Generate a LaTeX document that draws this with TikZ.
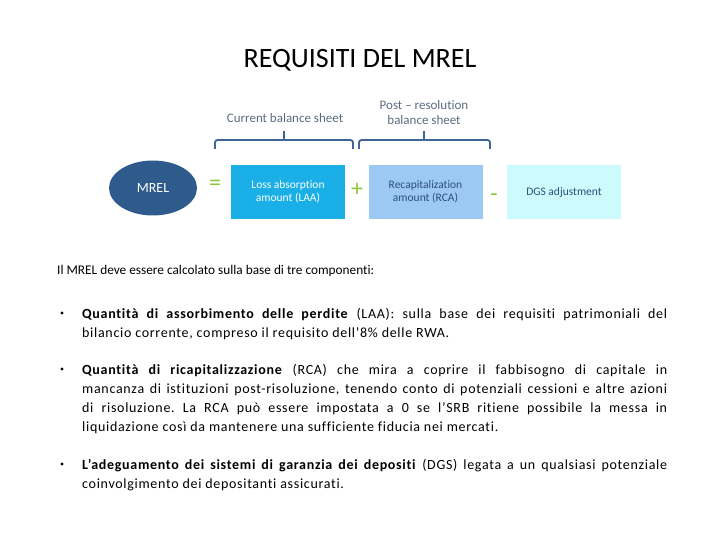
\documentclass[tikz,border=0pt]{standalone}
\usepackage{fontspec}
\setmainfont{Carlito}[Ligatures=NoCommon]
\newfontfamily\spacedfont{Carlito}[Ligatures=NoCommon, LetterSpace=5]
\usetikzlibrary{shapes.geometric,positioning}

\definecolor{mreldark}{HTML}{2F5B8C}
\definecolor{laablue}{HTML}{1AAFE6}
\definecolor{rcablue}{HTML}{9CC8F5}
\definecolor{dgscyan}{HTML}{CCFAFD}
\definecolor{signgreen}{HTML}{8CC63E}
\definecolor{bracketblue}{HTML}{40659A}
\definecolor{labelgrey}{HTML}{5A6C82}
\definecolor{boxtext}{HTML}{2D4F7A}

% paragraph settings for the bullet texts
\newcommand\bulletpar{\frenchspacing\hyphenpenalty=10000 \tolerance=10000 \strut}

\tikzset{
  comp/.style={minimum width=114pt, minimum height=54pt, inner sep=0pt, align=center,
    font=\fontsize{11.5}{13.5}\selectfont},
  sign/.style={text=signgreen, font=\fontsize{24}{24}\selectfont},
  brace/.style={draw=bracketblue, line width=1.8pt, rounded corners=2.5pt},
  bracelabel/.style={text=labelgrey, align=center, font=\fontsize{13}{15}\selectfont},
  bodytext/.style={anchor=north west, inner sep=0pt, text width=585pt, align=justify,
    font=\spacedfont\fontsize{14}{19}\selectfont},
  dot/.style={circle, fill=black, inner sep=0pt, minimum size=3.4pt}
}

\begin{document}
\begin{tikzpicture}[x=1pt, y=-1pt]
  \useasboundingbox (0,0) rectangle (720,540);
  \node[font=\fontsize{28}{32}\selectfont] (title) at (360,60) {REQUISITI DEL MREL};

  % formula row
  \node[ellipse, fill=mreldark, text=white, minimum width=88pt, minimum height=55pt,
        font=\fontsize{14}{16}\selectfont] (mrel) at (153,188) {MREL};
  \node[sign] (eq) at (215,185) {=};
  \node[comp, fill=laablue, text=white] (laa) at (288,192) {Loss absorption\\amount (LAA)};
  \node[sign] (plus) at (357,190) {+};
  \node[comp, fill=rcablue, text=boxtext] (rca) at (425.5,192) {Recapitalization\\amount (RCA)};
  \node[sign] (minus) at (494,198) {-};
  \node[comp, fill=dgscyan, text=boxtext] (dgs) at (564,192) {DGS adjustment};

  % brackets
  \coordinate (b1l) at (215,149);
  \coordinate (b1r) at (353,149);
  \coordinate (b1m) at (284,131);
  \coordinate (b2l) at (359,149);
  \coordinate (b2r) at (490,149);
  \coordinate (b2m) at (424,131);
  \draw[brace] (b1l) -- (b1l |- 0,140) -- (b1r |- 0,140) -- (b1r);
  \draw[brace] (b1m) -- (b1m |- 0,140);
  \draw[brace] (b2l) -- (b2l |- 0,140) -- (b2r |- 0,140) -- (b2r);
  \draw[brace] (b2m) -- (b2m |- 0,140);
  \node[bracelabel] (cur) at (285,118) {Current balance sheet};
  \node[bracelabel] (post) at (424,113) {Post – resolution\\balance sheet};

  % text
  \node[anchor=north west, inner sep=0pt, font=\fontsize{13.3}{19}\selectfont] (intro) at (57,260.7)
    {\strut Il MREL deve essere calcolato sulla base di tre componenti:};
  \node[dot] (d1) at (62,313) {};
  \node[bodytext] (t1) at (82,304.7) {\bulletpar\textbf{Quantità di assorbimento delle perdite} (LAA): sulla base dei requisiti patrimoniali del\linebreak bilancio corrente, compreso il requisito dell’8\% delle RWA.};
  \node[dot] (d2) at (62,369) {};
  \node[bodytext] (t2) at (82,360.7) {\bulletpar\textbf{Quantità di ricapitalizzazione} (RCA) che mira a coprire il fabbisogno di capitale in\linebreak mancanza di istituzioni post-risoluzione, tenendo conto di potenziali cessioni e altre azioni\linebreak di risoluzione. La RCA può essere impostata a 0 se l’SRB ritiene possibile la messa in\linebreak liquidazione così da mantenere una sufficiente fiducia nei mercati.};
  \node[dot] (d3) at (62,464) {};
  \node[bodytext] (t3) at (82,455.7) {\bulletpar\textbf{L’adeguamento dei sistemi di garanzia dei depositi} (DGS) legata a un qualsiasi potenziale\linebreak coinvolgimento dei depositanti assicurati.};
\end{tikzpicture}
\end{document}
